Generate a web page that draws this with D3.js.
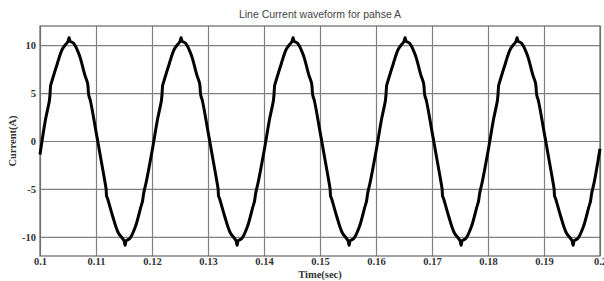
<!DOCTYPE html>
<html>
<head>
<meta charset="utf-8">
<script src="https://cdn.jsdelivr.net/npm/d3@7"></script>
<style>
  html, body { margin: 0; padding: 0; background: #fff; }
  svg { display: block; }
</style>
</head>
<body>
<svg id="chart" width="604" height="281"></svg>
<script>
const titleText = "Line Current waveform for pahse A";
const xLabel = "Time(sec)";
const yLabel = "Current(A)";
const xTicks = [0.1, 0.11, 0.12, 0.13, 0.14, 0.15, 0.16, 0.17, 0.18, 0.19, 0.2];
const xTickLabels = ["0.1", "0.11", "0.12", "0.13", "0.14", "0.15", "0.16", "0.17", "0.18", "0.19", "0.2"];
const yTicks = [-10, -5, 0, 5, 10];
const yTickLabels = ["-10", "-5", "0", "5", "10"];

const timeSec = [
  0.1000,0.1010,0.1017,0.1019,0.1020,0.1030,0.1040,0.1050,0.1052,0.1054,0.1060,0.1070,0.1080,0.1085,0.1087,0.1090,
  0.1100,0.1110,0.1118,0.1119,0.1120,0.1130,0.1140,0.1150,0.1152,0.1154,0.1160,0.1170,0.1180,0.1183,0.1185,0.1190,
  0.1200,0.1210,0.1217,0.1219,0.1220,0.1230,0.1240,0.1250,0.1252,0.1254,0.1260,0.1270,0.1280,0.1285,0.1287,0.1290,
  0.1300,0.1310,0.1318,0.1319,0.1320,0.1330,0.1340,0.1350,0.1352,0.1354,0.1360,0.1370,0.1380,0.1383,0.1385,0.1390,
  0.1400,0.1410,0.1417,0.1419,0.1420,0.1430,0.1440,0.1450,0.1452,0.1454,0.1460,0.1470,0.1480,0.1485,0.1487,0.1490,
  0.1500,0.1510,0.1518,0.1519,0.1520,0.1530,0.1540,0.1550,0.1552,0.1554,0.1560,0.1570,0.1580,0.1583,0.1585,0.1590,
  0.1600,0.1610,0.1617,0.1619,0.1620,0.1630,0.1640,0.1650,0.1652,0.1654,0.1660,0.1670,0.1680,0.1685,0.1687,0.1690,
  0.1700,0.1710,0.1718,0.1719,0.1720,0.1730,0.1740,0.1750,0.1752,0.1754,0.1760,0.1770,0.1780,0.1783,0.1785,0.1790,
  0.1800,0.1810,0.1817,0.1819,0.1820,0.1830,0.1840,0.1850,0.1852,0.1854,0.1860,0.1870,0.1880,0.1885,0.1887,0.1890,
  0.1900,0.1910,0.1918,0.1919,0.1920,0.1930,0.1940,0.1950,0.1952,0.1954,0.1960,0.1970,0.1980,0.1983,0.1985,0.1990,
  0.2000
];
const currentA = [
  -1.4,2.3,4.3,5.8,6.0,7.9,9.6,10.4,10.8,10.4,10.2,9.0,6.9,6.0,4.8,4.2,
  1.0,-2.3,-5.0,-5.8,-5.9,-7.9,-9.6,-10.4,-10.9,-10.4,-10.2,-9.0,-6.9,-6.3,-5.5,-4.2,
  -1.1,2.3,4.3,5.8,6.0,7.9,9.6,10.4,10.8,10.4,10.2,9.0,6.9,6.0,4.8,4.2,
  1.0,-2.3,-5.0,-5.8,-5.9,-7.9,-9.6,-10.4,-10.9,-10.4,-10.2,-9.0,-6.9,-6.3,-5.5,-4.2,
  -1.1,2.3,4.3,5.8,6.0,7.9,9.6,10.4,10.8,10.4,10.2,9.0,6.9,6.0,4.8,4.2,
  1.0,-2.3,-5.0,-5.8,-5.9,-7.9,-9.6,-10.4,-10.9,-10.4,-10.2,-9.0,-6.9,-6.3,-5.5,-4.2,
  -1.1,2.3,4.3,5.8,6.0,7.9,9.6,10.4,10.8,10.4,10.2,9.0,6.9,6.0,4.8,4.2,
  1.0,-2.3,-5.0,-5.8,-5.9,-7.9,-9.6,-10.4,-10.9,-10.4,-10.2,-9.0,-6.9,-6.3,-5.5,-4.2,
  -1.1,2.3,4.3,5.8,6.0,7.9,9.6,10.4,10.8,10.4,10.2,9.0,6.9,6.0,4.8,4.2,
  1.0,-2.3,-5.0,-5.8,-5.9,-7.9,-9.6,-10.4,-10.9,-10.4,-10.2,-9.0,-6.9,-6.3,-5.5,-4.2,
  -0.8
];

const svg = d3.select("#chart");
const W = 604, H = 281;
const m = { left: 40, right: 4, top: 26, bottom: 25 };
const pw = W - m.left - m.right, ph = H - m.top - m.bottom;

svg.append("rect").attr("width", W).attr("height", H).attr("fill", "#fff");

const x = d3.scaleLinear().domain([0.1, 0.2]).range([m.left, m.left + pw]);
const y = d3.scaleLinear().domain([-12, 12]).range([m.top + ph, m.top]);

const serif = "'Liberation Serif', 'DejaVu Serif', serif";

// x grid + labels
const gx = svg.append("g")
  .attr("transform", `translate(0,${m.top + ph})`)
  .call(d3.axisBottom(x).tickValues(xTicks)
    .tickSize(-ph).tickPadding(2)
    .tickFormat((d, i) => xTickLabels[i]));
gx.select(".domain").remove();
gx.selectAll(".tick line").attr("stroke", "#808080").attr("stroke-width", 1.2);
gx.selectAll(".tick text")
  .attr("fill", "#333")
  .style("font-family", serif)
  .style("font-weight", "bold")
  .style("font-size", "10.5px");

// y grid + labels
const gy = svg.append("g")
  .attr("transform", `translate(${m.left},0)`)
  .call(d3.axisLeft(y).tickValues(yTicks)
    .tickSize(-pw).tickPadding(4)
    .tickFormat((d, i) => yTickLabels[i]));
gy.select(".domain").remove();
gy.selectAll(".tick line").attr("stroke", "#808080").attr("stroke-width", 1.2);
gy.selectAll(".tick text")
  .attr("fill", "#333")
  .style("font-family", serif)
  .style("font-weight", "bold")
  .style("font-size", "10.5px");

// frame
svg.append("rect")
  .attr("x", m.left).attr("y", m.top)
  .attr("width", pw).attr("height", ph)
  .attr("fill", "none").attr("stroke", "#666").attr("stroke-width", 1.2);

// waveform
const pts = timeSec.map((t, i) => [t, currentA[i]]);
const line = d3.line()
  .x(d => x(d[0])).y(d => y(d[1]))
  .curve(d3.curveCatmullRom.alpha(0.5));
svg.append("path")
  .datum(pts)
  .attr("d", line)
  .attr("fill", "none")
  .attr("stroke", "#000")
  .attr("stroke-width", 3)
  .attr("stroke-linejoin", "round");

// title
svg.append("text")
  .attr("x", m.left + pw / 2).attr("y", 18)
  .attr("text-anchor", "middle")
  .attr("fill", "#444")
  .style("font-family", "'Liberation Sans', Arial, sans-serif")
  .style("font-size", "10.5px")
  .text(titleText);

// axis labels
svg.append("text")
  .attr("x", m.left + pw / 2).attr("y", 278)
  .attr("text-anchor", "middle")
  .attr("fill", "#333")
  .style("font-family", serif)
  .style("font-weight", "bold")
  .style("font-size", "10.5px")
  .text(xLabel);

svg.append("text")
  .attr("transform", `translate(16,${m.top + ph / 2}) rotate(-90)`)
  .attr("text-anchor", "middle")
  .attr("fill", "#333")
  .style("font-family", serif)
  .style("font-weight", "bold")
  .style("font-size", "10.5px")
  .text(yLabel);
</script>
</body>
</html>
